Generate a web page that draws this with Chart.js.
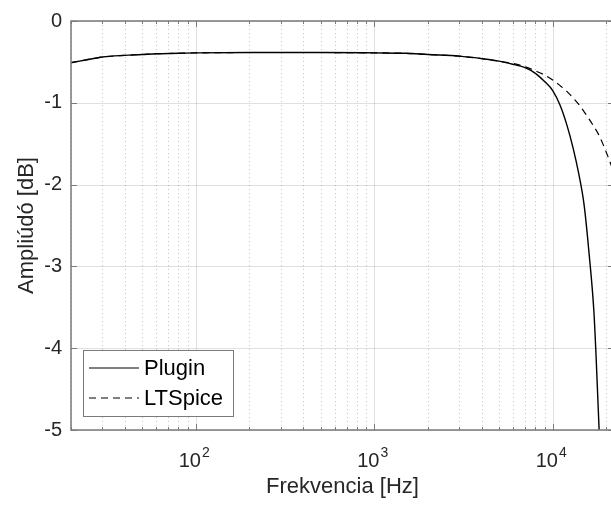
<!DOCTYPE html>
<html>
<head>
<meta charset="utf-8">
<script src="https://cdn.jsdelivr.net/npm/chart.js@4.4.1/dist/chart.umd.min.js"></script>
<style>
  html, body { margin: 0; padding: 0; background: #fff; overflow: hidden; }
  #wrap { width: 620px; height: 506px; position: relative; }
</style>
</head>
<body>
<div id="wrap"><canvas id="mc"></canvas></div>
<script>
// frequency response (Hz, dB)
const freqPlugin = [20, 25, 30, 40, 50, 60, 80, 100, 200, 500, 1000, 1500, 2000, 3000, 4000, 5000, 6000, 7000, 8000, 9000, 10000, 11000, 12000, 13000, 14000, 15000, 16000, 17000, 17500, 18200, 19000];
const ampPlugin  = [-0.51, -0.47, -0.44, -0.42, -0.41, -0.40, -0.395, -0.39, -0.385, -0.385, -0.39, -0.395, -0.41, -0.43, -0.46, -0.49, -0.53, -0.57, -0.64, -0.74, -0.85, -1.03, -1.27, -1.55, -1.87, -2.25, -2.85, -3.54, -4.1, -5.0, -6.3];

const freqSpice = [20, 25, 30, 40, 50, 60, 80, 100, 200, 500, 1000, 1500, 2000, 3000, 4000, 5000, 6000, 7000, 8000, 9000, 10000, 11000, 12000, 13000, 14000, 15000, 16000, 17000, 18000, 19000, 20000, 21000, 22050];
const ampSpice  = [-0.51, -0.47, -0.44, -0.42, -0.41, -0.40, -0.395, -0.39, -0.385, -0.385, -0.39, -0.395, -0.41, -0.43, -0.46, -0.49, -0.52, -0.56, -0.61, -0.66, -0.72, -0.79, -0.86, -0.94, -1.02, -1.11, -1.20, -1.29, -1.38, -1.49, -1.61, -1.73, -1.86];

const seriesNames = ['Plugin', 'LTSpice'];
const decadeTicks = [100, 1000, 10000];
const decadeExp = ['2', '3', '4'];

const FONT = '"Liberation Sans", Arial, sans-serif';
const TXT = '#262626';
const AXIS = '#7a7a7a';

function pts(xs, ys) {
    return xs.map((v, i) => ({ x: v, y: ys[i] }));
}

// minor grid positions 2..9 x 10^k inside the range
const minorX = [];
for (let k = 1; k <= 4; k++) {
    for (let m = 2; m <= 9; m++) {
        const v = m * Math.pow(10, k);
        if (v >= 20 && v <= 22050) minorX.push(v);
    }
}

function seg(ctx, x1, y1, x2, y2) {
    ctx.beginPath();
    ctx.moveTo(x1, y1);
    ctx.lineTo(x2, y2);
    ctx.stroke();
}

const matlabAxes = {
    id: 'matlabAxes',
    beforeDatasetsDraw(chart) {
        const { ctx, chartArea: a, scales: { x, y } } = chart;
        ctx.save();
        ctx.lineWidth = 1;
        ctx.strokeStyle = 'rgba(38,38,38,0.28)';
        ctx.setLineDash([1, 3]);
        minorX.forEach(v => {
            const px = Math.round(x.getPixelForValue(v)) + 0.5;
            seg(ctx, px, a.top, px, a.bottom);
        });
        ctx.setLineDash([]);
        ctx.strokeStyle = 'rgba(38,38,38,0.14)';
        decadeTicks.forEach(v => {
            const px = Math.round(x.getPixelForValue(v)) + 0.5;
            seg(ctx, px, a.top, px, a.bottom);
        });
        y.ticks.forEach(t => {
            const py = Math.round(y.getPixelForValue(t.value)) + 0.5;
            seg(ctx, a.left, py, a.right, py);
        });
        ctx.restore();
    },
    afterDatasetsDraw(chart) {
        const { ctx, chartArea: a, scales: { x, y } } = chart;
        ctx.save();
        ctx.strokeStyle = AXIS;
        ctx.lineWidth = 1;
        minorX.forEach(v => {
            const px = Math.round(x.getPixelForValue(v)) + 0.5;
            seg(ctx, px, a.bottom, px, a.bottom - 3);
            seg(ctx, px, a.top, px, a.top + 3);
        });
        decadeTicks.forEach(v => {
            const px = Math.round(x.getPixelForValue(v)) + 0.5;
            seg(ctx, px, a.bottom, px, a.bottom - 6);
            seg(ctx, px, a.top, px, a.top + 6);
        });
        y.ticks.forEach(t => {
            const py = Math.round(y.getPixelForValue(t.value)) + 0.5;
            seg(ctx, a.left, py, a.left + 6, py);
            seg(ctx, a.right, py, a.right - 6, py);
        });
        ctx.lineWidth = 1.5;
        ctx.strokeRect(a.left, a.top, a.right - a.left, a.bottom - a.top);
        ctx.restore();
    },
    afterDraw(chart) {
        const { ctx, scales: { x } } = chart;
        ctx.save();
        ctx.fillStyle = TXT;
        ctx.textBaseline = 'alphabetic';
        ctx.textAlign = 'left';
        decadeTicks.forEach((v, i) => {
            const px = x.getPixelForValue(v);
            ctx.font = '20px ' + FONT;
            const w1 = ctx.measureText('10').width;
            ctx.font = '14px ' + FONT;
            const w2 = ctx.measureText(decadeExp[i]).width;
            const left = px - (w1 + w2) / 2 - 2;
            ctx.font = '20px ' + FONT;
            ctx.fillText('10', left, 467);
            ctx.font = '14px ' + FONT;
            ctx.fillText(decadeExp[i], left + w1 + 1, 457);
        });

        // legend box, lower-left inside the axes
        const bx = 83.5, by = 350.5, bw = 150, bh = 66;
        ctx.fillStyle = '#fff';
        ctx.fillRect(bx, by, bw, bh);
        ctx.strokeStyle = AXIS;
        ctx.lineWidth = 1;
        ctx.strokeRect(bx, by, bw, bh);
        ctx.font = '22px ' + FONT;
        ctx.textBaseline = 'middle';
        chart.data.datasets.forEach((ds, i) => {
            const ly = [368, 398][i];
            ctx.strokeStyle = ds.borderColor;
            ctx.lineWidth = 1;
            ctx.setLineDash(ds.borderDash || []);
            seg(ctx, 89, ly, 139, ly);
            ctx.setLineDash([]);
            ctx.fillStyle = '#000';
            ctx.fillText(ds.label, 144, ly + 1);
        });
        ctx.restore();
    }
};

new Chart(document.getElementById('mc'), {
    type: 'line',
    data: {
        datasets: [{
            label: seriesNames[0],
            data: pts(freqPlugin, ampPlugin),
            borderColor: '#000',
            borderWidth: 1.4,
            pointRadius: 0,
            cubicInterpolationMode: 'monotone'
        }, {
            label: seriesNames[1],
            data: pts(freqSpice, ampSpice),
            borderColor: '#000',
            borderWidth: 1.2,
            borderDash: [7, 5],
            pointRadius: 0,
            cubicInterpolationMode: 'monotone'
        }]
    },
    options: {
        responsive: true,
        maintainAspectRatio: false,
        animation: false,
        layout: { padding: { top: 18, right: 6, left: 0, bottom: 0 } },
        plugins: { legend: { display: false }, tooltip: { enabled: false } },
        scales: {
            x: {
                type: 'logarithmic',
                min: 20,
                max: 22050,
                grid: { display: false, drawTicks: false },
                border: { display: false },
                ticks: { display: false },
                title: {
                    display: true,
                    text: 'Frekvencia [Hz]',
                    color: TXT,
                    font: { family: FONT, size: 22 },
                    padding: { top: 0, bottom: 6 }
                },
                afterFit(s) { s.height = 76; }
            },
            y: {
                min: -5,
                max: 0,
                grid: { display: false, drawTicks: false },
                border: { display: false },
                ticks: {
                    stepSize: 1,
                    padding: 9,
                    color: TXT,
                    font: { family: FONT, size: 20 }
                },
                title: {
                    display: true,
                    text: 'Ampliúdó [dB]',
                    color: TXT,
                    font: { family: FONT, size: 22 },
                    padding: { top: 14, bottom: 0 }
                },
                afterFit(s) { s.width = 71; }
            }
        }
    },
    plugins: [matlabAxes]
});
</script>
</body>
</html>
